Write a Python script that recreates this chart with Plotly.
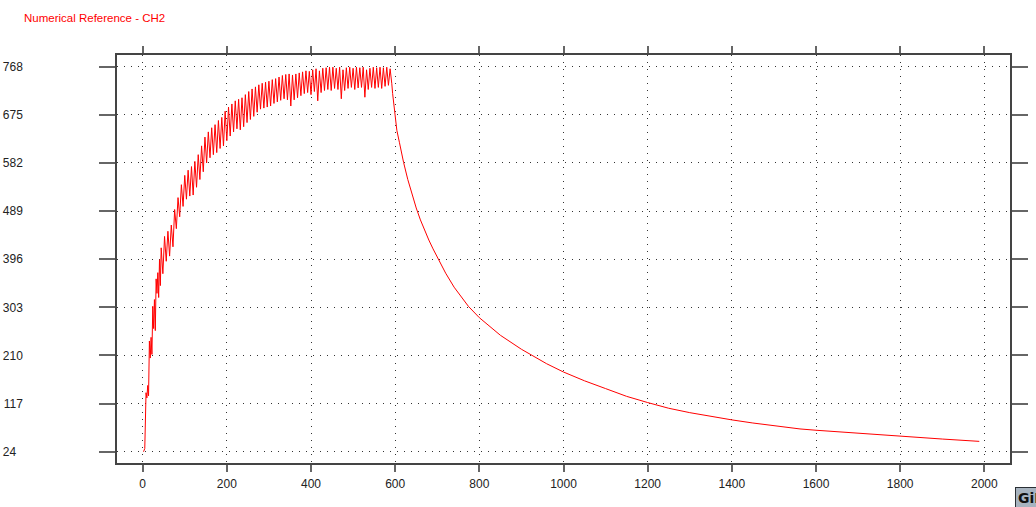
import plotly.graph_objects as go

# ---- data (time vs. value, CH2) ----
rise_x = [2, 5, 8, 10, 12, 14, 16, 18, 20, 22, 24, 26, 28, 30, 32, 34, 36, 38, 40, 42,
          44, 48, 52, 56, 60, 64, 68, 72, 76, 80, 84, 88, 92, 96, 100, 104, 108, 112, 116, 120,
          124, 128, 132, 136, 140, 144, 148, 152, 156, 160, 164, 168, 172, 176, 180, 184, 188, 192, 196, 200,
          204, 208, 212, 216, 220, 224, 228, 232, 236, 240, 244, 248, 252, 256, 260, 264, 268, 272, 276, 280,
          284, 288, 292, 296, 300, 304, 308, 312, 316, 320, 324, 328, 332, 336, 340, 344, 348, 352, 356, 360,
          364, 368, 372, 376, 380, 384, 388, 392, 396, 400, 404, 408, 412, 416, 420, 424, 428, 432, 436, 440,
          444, 448, 452, 456, 460, 464, 468, 472, 476, 480, 484, 488, 492, 496, 500, 504, 508, 512, 516, 520,
          524, 528, 532, 536, 540, 544, 548, 552, 556, 560, 564, 568, 572, 576, 580, 584, 588]
rise_y = [24, 30, 138, 128, 152, 132, 238, 205, 245, 212, 305, 262, 318, 258, 358, 330, 370, 322, 395, 345,
          418, 368, 440, 392, 450, 402, 462, 420, 492, 455, 515, 478, 540, 498, 558, 512, 568, 518, 575, 520,
          585, 535, 598, 550, 615, 565, 632, 582, 642, 592, 650, 598, 656, 602, 664, 610, 670, 615, 682, 625,
          690, 634, 696, 642, 702, 648, 705, 646, 708, 652, 714, 660, 720, 666, 725, 672, 729, 680, 733, 686,
          736, 688, 738, 690, 740, 692, 743, 697, 745, 700, 748, 703, 751, 706, 753, 704, 754, 692, 752, 704,
          754, 708, 756, 712, 758, 716, 760, 718, 759, 714, 762, 720, 764, 702, 760, 718, 765, 722, 766, 724,
          767, 722, 767, 726, 765, 724, 767, 706, 762, 722, 766, 726, 767, 728, 765, 724, 767, 727, 766, 728,
          767, 709, 762, 724, 765, 728, 767, 726, 766, 728, 767, 726, 766, 730, 767, 732, 764]

decay_x = [590, 592, 594, 596, 598, 600, 604, 610, 615, 620, 630, 640, 650, 660, 670, 680, 690, 700,
           720, 740, 760, 774, 800, 850, 900, 921, 960, 1000, 1050, 1100, 1150, 1200, 1250, 1300,
           1350, 1400, 1450, 1500, 1562, 1600, 1700, 1800, 1900, 1988]
decay_y = [752, 735, 716, 700, 684, 670, 645, 622, 602, 583, 550, 522, 495, 472, 451, 433, 416, 400,
           369, 342, 319, 305, 283, 249, 222, 212, 194, 178, 161, 146, 131, 119, 108, 99.5,
           92, 85.5, 79.5, 74, 68, 65.5, 59.5, 54, 48.5, 44]

x_ticks = [0, 200, 400, 600, 800, 1000, 1200, 1400, 1600, 1800, 2000]
y_ticks = [24, 117, 210, 303, 396, 489, 582, 675, 768]
y_tick_text = ["24\u2007", "117", "210", "303", "396", "489", "582", "675", "768"]

title_text = "Numerical Reference - CH2"

fig = go.Figure()
fig.add_trace(go.Scatter(
    x=rise_x + decay_x,
    y=rise_y + decay_y,
    mode="lines",
    line=dict(color="#ff0000", width=1),
    showlegend=False,
    hoverinfo="x+y",
))

font_family = "Liberation Sans, Arial, sans-serif"

fig.update_layout(
    width=1036, height=507,
    margin=dict(l=117, r=26, t=55, b=44, autoexpand=False),
    paper_bgcolor="white",
    plot_bgcolor="white",
    font=dict(family=font_family, size=12, color="#222"),
    title=dict(text=title_text, x=24 / 1036, xanchor="left", xref="container",
               y=1 - 18 / 507, yanchor="middle", yref="container",
               font=dict(family=font_family, size=11.5, color="#ff0000")),
    annotations=[dict(text="<b>GiD</b>", xref="paper", yref="paper",
                      x=(1015 - 117) / 893, y=(463 - 498) / 408,
                      xanchor="left", yanchor="middle", showarrow=False,
                      font=dict(family="DejaVu Sans, sans-serif", size=14, color="#111"),
                      bgcolor="#a7b3bf", bordercolor="#2a2f35", borderwidth=1, borderpad=2)],
)

fig.update_xaxes(
    range=[-61, 2061],
    tickvals=x_ticks,
    ticks="outside", ticklen=7, tickwidth=2, tickcolor="#666",
    showline=True, linecolor="#444", linewidth=1.5, mirror="allticks",
    showgrid=True, gridcolor="#333", gridwidth=1, griddash="1px,6px",
    zeroline=False, automargin=False,
    ticklabelstandoff=2,
    tickfont=dict(family=font_family, size=12, color="#222"),
)
fig.update_yaxes(
    range=[2.2, 790.6],
    tickvals=y_ticks, ticktext=y_tick_text,
    ticks="outside", ticklen=16, tickwidth=2, tickcolor="#666",
    showline=True, linecolor="#444", linewidth=1.5, mirror="allticks",
    showgrid=True, gridcolor="#333", gridwidth=1, griddash="1px,6px",
    zeroline=False, automargin=False,
    ticklabelstandoff=74,
    tickfont=dict(family=font_family, size=12, color="#222"),
)

fig.write_html(
    "out.html",
    config={"displayModeBar": False},
    post_script="document.body.style.margin='0';document.body.style.overflow='hidden';",
)
